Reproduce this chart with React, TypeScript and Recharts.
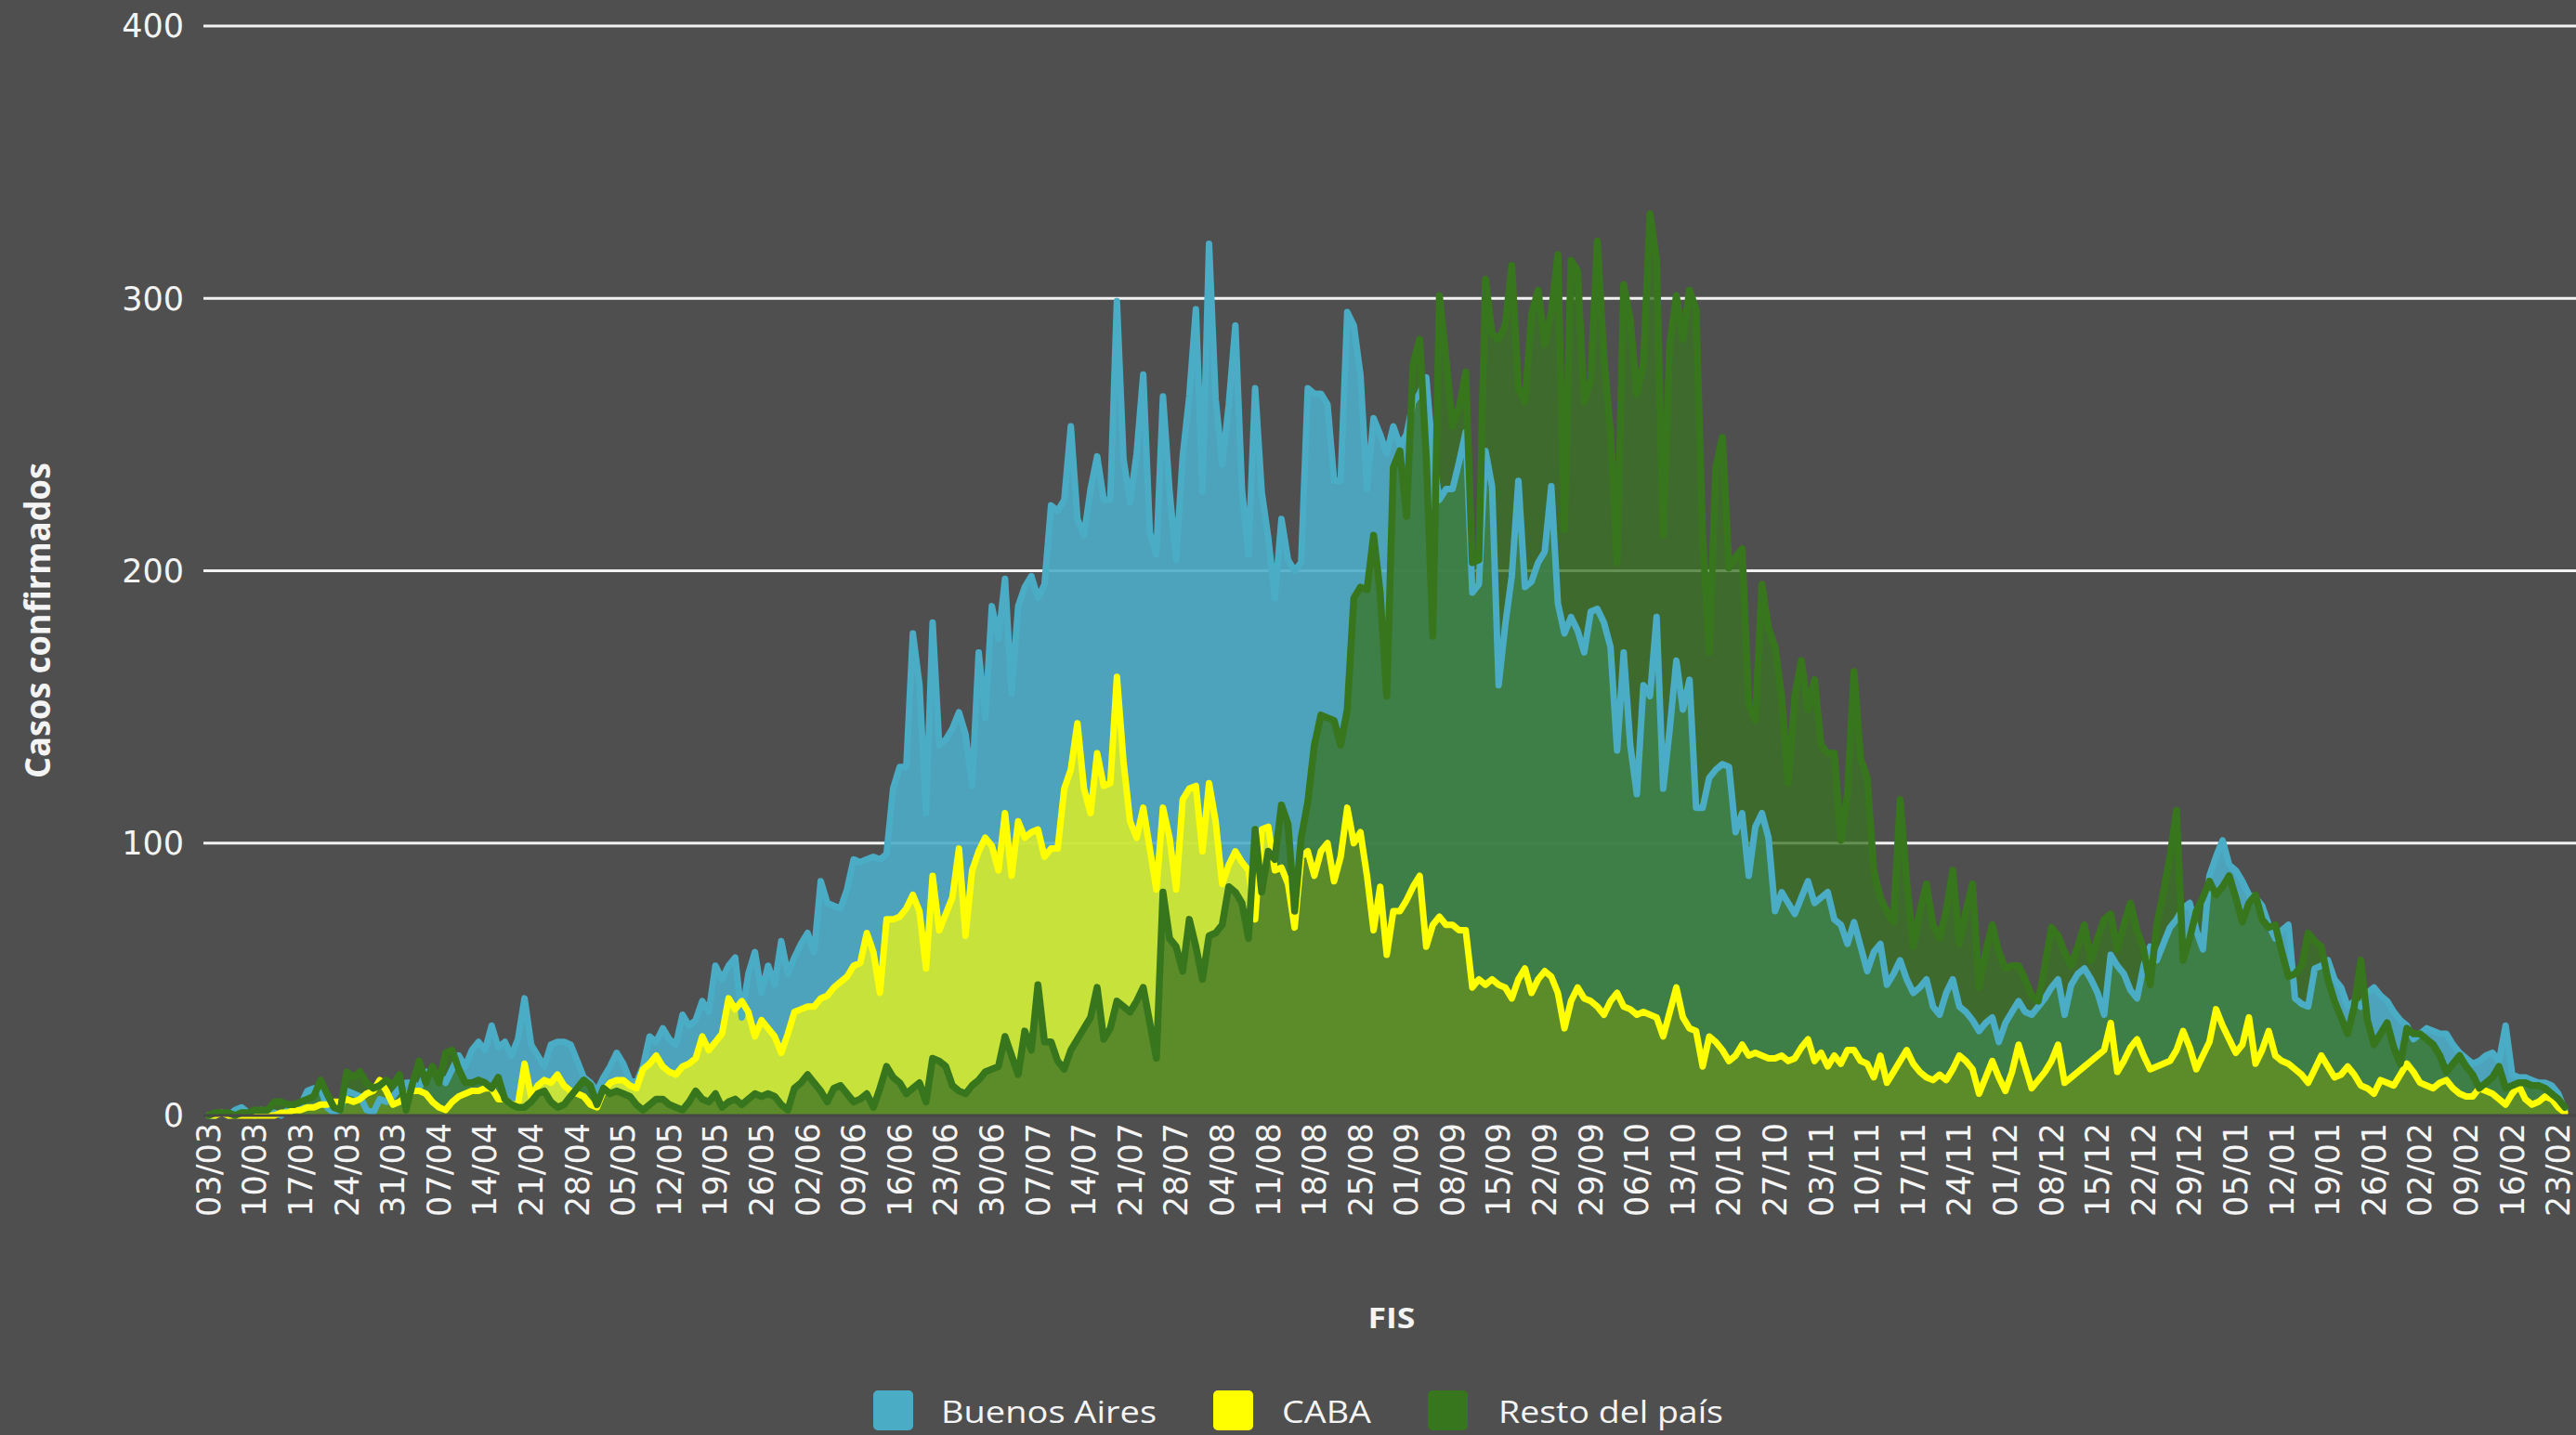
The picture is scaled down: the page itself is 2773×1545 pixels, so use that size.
import React from 'react';
import { ComposedChart, Area, Line, XAxis, YAxis, CartesianGrid, Legend, Label } from 'recharts';

// Daily confirmed cases by FIS (fecha de inicio de síntomas), from 03/03/2020
const BUENOS_AIRES = [
  0, 0, 1, 0, 2, 3, 1, 0, 2, 1,
  1, 0, 2, 3, 4, 9, 10, 10, 3, 1,
  2, 9, 8, 7, 2, 1, 6, 5, 7, 10,
  12, 12, 10, 16, 16, 15, 12, 17, 22, 18,
  24, 27, 24, 33, 25, 27, 22, 28, 43, 26,
  22, 18, 26, 27, 27, 26, 20, 14, 12, 9,
  14, 18, 23, 19, 13, 12, 18, 29, 27, 32,
  28, 26, 37, 33, 35, 42, 38, 55, 50, 55,
  58, 36, 52, 60, 45, 55, 48, 64, 52, 58,
  63, 67, 60, 86, 78, 77, 76, 83, 94, 93,
  94, 95, 94, 96, 120, 128, 128, 177, 158, 111,
  181, 136, 138, 142, 148, 140, 121, 170, 146, 187,
  175, 197, 155, 187, 194, 198, 190, 195, 224, 222,
  226, 253, 219, 213, 230, 242, 226, 226, 299, 241,
  225, 243, 272, 214, 206, 264, 229, 204, 242, 264,
  296, 229, 320, 263, 239, 261, 290, 230, 206, 267,
  229, 212, 190, 219, 204, 200, 203, 267, 265, 265,
  261, 233, 233, 295, 290, 272, 230, 256, 250, 243,
  253, 246, 250, 262, 265, 271, 242, 226, 230, 230,
  240, 251, 192, 195, 244, 231, 158, 180, 198, 233,
  194, 196, 203, 207, 231, 188, 177, 183, 178, 170,
  185, 186, 181, 172, 134, 170, 136, 118, 158, 154,
  183, 120, 142, 167, 149, 160, 113, 113, 124, 127,
  129, 128, 104, 111, 88, 106, 111, 102, 75, 82,
  78, 74, 80, 86, 78, 80, 82, 72, 70, 63,
  71, 62, 53, 60, 63, 48, 52, 57, 50, 45,
  47, 50, 40, 37, 45, 50, 40, 38, 35, 31,
  34, 36, 27, 34, 38, 42, 38, 37, 40, 43,
  47, 50, 37, 48, 52, 54, 50, 45, 37, 59,
  55, 52, 46, 43, 55, 62, 57, 63, 69, 72,
  76, 78, 68, 61, 88, 95, 101, 92, 90, 86,
  81, 80, 77, 70, 65, 68, 70, 43, 41, 40,
  54, 55, 57, 50, 47, 40, 42, 40, 45, 47,
  44, 42, 38, 35, 33, 28, 30, 32, 31, 30,
  30, 26, 23, 21, 19, 20, 22, 23, 20, 33,
  15, 14, 14, 13, 12, 12, 11, 8, 2,
];

const CABA = [
  0, 0, 1, 0, 0, 0, 0, 0, 0, 0,
  0, 1, 1, 2, 2, 3, 3, 4, 4, 5,
  5, 6, 5, 6, 8, 9, 13, 9, 4, 5,
  7, 9, 9, 8, 5, 3, 2, 5, 7, 8,
  9, 9, 10, 10, 6, 6, 4, 4, 19, 7,
  11, 13, 12, 15, 11, 9, 8, 7, 4, 3,
  9, 12, 13, 13, 11, 10, 17, 19, 22, 18,
  16, 15, 18, 19, 21, 29, 24, 27, 30, 43,
  39, 42, 38, 29, 35, 32, 29, 23, 30, 38,
  39, 40, 40, 43, 44, 47, 49, 51, 55, 56,
  67, 60, 45, 72, 72, 73, 76, 81, 75, 54,
  88, 68, 74, 80, 98, 66, 90, 97, 102, 99,
  90, 111, 88, 108, 102, 104, 105, 95, 98, 98,
  120, 127, 144, 120, 111, 133, 121, 122, 161, 130,
  108, 102, 113, 98, 83, 113, 102, 83, 116, 120,
  121, 97, 122, 108, 85, 92, 97, 93, 90, 72,
  105, 106, 90, 91, 85, 69, 95, 97, 88, 97,
  100, 86, 95, 113, 100, 104, 88, 68, 84, 59,
  75, 75, 79, 84, 88, 62, 70, 73, 70, 70,
  68, 68, 47, 50, 48, 50, 48, 47, 43, 50,
  54, 45, 50, 53, 51, 45, 32, 42, 47, 43,
  42, 40, 37, 42, 45, 40, 39, 37, 38, 37,
  36, 29, 38, 47, 36, 32, 31, 18, 29, 27,
  24, 20, 22, 26, 22, 23, 22, 21, 21, 22,
  20, 21, 25, 28, 20, 23, 18, 22, 19, 24,
  24, 20, 19, 14, 22, 12, 16, 20, 24, 19,
  16, 14, 13, 15, 13, 17, 22, 20, 17, 8,
  14, 20, 14, 9, 16, 26, 18, 10, 13, 16,
  20, 26, 12, 14, 16, 18, 20, 22, 24, 34,
  16, 20, 25, 28, 22, 17, 18, 19, 20, 24,
  31, 25, 17, 22, 27, 39, 33, 28, 23, 26,
  36, 19, 24, 31, 22, 20, 19, 17, 15, 12,
  17, 22, 18, 14, 15, 18, 15, 11, 10, 8,
  13, 12, 11, 15, 19, 16, 12, 11, 10, 12,
  13, 10, 8, 7, 7, 10, 9, 8, 6, 4,
  8, 11, 6, 4, 5, 7, 6, 3, 1,
];

const RESTO_DEL_PAIS = [
  0, 1, 1, 1, 0, 1, 1, 2, 2, 2,
  5, 5, 4, 4, 5, 6, 7, 13, 8, 3,
  2, 16, 14, 16, 12, 10, 11, 13, 11, 15,
  2, 12, 20, 12, 18, 12, 23, 24, 17, 12,
  12, 13, 12, 10, 14, 6, 4, 3, 3, 5,
  8, 9, 5, 3, 4, 7, 10, 13, 11, 4,
  10, 8, 9, 8, 7, 4, 2, 4, 6, 6,
  4, 3, 2, 5, 9, 6, 5, 8, 3, 5,
  6, 4, 6, 8, 7, 8, 7, 4, 2, 10,
  12, 15, 12, 9, 5, 10, 11, 8, 5, 6,
  8, 3, 10, 18, 14, 12, 8, 10, 12, 5,
  21, 20, 18, 11, 9, 8, 11, 13, 16, 17,
  18, 29, 22, 15, 31, 24, 48, 27, 27, 20,
  17, 24, 28, 32, 36, 47, 28, 32, 42, 40,
  38, 42, 47, 34, 21, 82, 65, 62, 53, 72,
  62, 50, 66, 67, 70, 84, 82, 78, 65, 105,
  82, 97, 94, 114, 107, 75, 102, 115, 136, 147,
  146, 145, 136, 149, 190, 194, 193, 213, 192, 154,
  238, 244, 220, 276, 285, 242, 176, 301, 278, 253,
  260, 273, 203, 204, 307, 287, 285, 290, 312, 267,
  262, 294, 303, 283, 295, 316, 215, 314, 310, 262,
  270, 321, 278, 251, 203, 305, 292, 265, 276, 331,
  314, 213, 283, 301, 285, 303, 296, 213, 170, 238,
  249, 201, 205, 208, 151, 145, 195, 179, 172, 154,
  122, 154, 167, 149, 160, 136, 133, 133, 101, 118,
  163, 131, 124, 90, 80, 75, 71, 116, 86, 62,
  75, 85, 70, 65, 75, 90, 63, 75, 85, 47,
  60, 70, 60, 54, 55, 55, 50, 44, 42, 55,
  69, 66, 60, 55, 62, 70, 57, 65, 72, 74,
  61, 70, 78, 68, 61, 48, 70, 82, 95, 112,
  57, 65, 75, 80, 86, 81, 84, 88, 80, 71,
  78, 81, 72, 69, 70, 60, 51, 52, 55, 67,
  64, 62, 50, 42, 36, 30, 40, 57, 35, 26,
  30, 34, 25, 19, 32, 30, 30, 28, 26, 22,
  16, 19, 22, 18, 15, 10, 12, 14, 18, 10,
  11, 12, 12, 11, 11, 10, 8, 6, 3,
];

const X_TICKS = [
  '03/03', '10/03', '17/03', '24/03', '31/03', '07/04', '14/04', '21/04', '28/04',
  '05/05', '12/05', '19/05', '26/05', '02/06', '09/06', '16/06', '23/06', '30/06',
  '07/07', '14/07', '21/07', '28/07', '04/08', '11/08', '18/08', '25/08', '01/09',
  '08/09', '15/09', '22/09', '29/09', '06/10', '13/10', '20/10', '27/10', '03/11',
  '10/11', '17/11', '24/11', '01/12', '08/12', '15/12', '22/12', '29/12', '05/01',
  '12/01', '19/01', '26/01', '02/02', '09/02', '16/02', '23/02',
];
const Y_TICKS = [0, 100, 200, 300, 400];
const GRID_VALUES = [100, 200, 300, 400];

const SERIES_NAMES = ['Buenos Aires', 'CABA', 'Resto del país'];
const COLORS = { ba: '#4bacc6', caba: '#ffff00', resto: '#38761d' };

const pad = (n: number) => (n < 10 ? '0' + n : '' + n);
const dayLabel = (i: number) => {
  const d = new Date(Date.UTC(2020, 2, 3 + i));
  return pad(d.getUTCDate()) + '/' + pad(d.getUTCMonth() + 1);
};

const data = BUENOS_AIRES.map((v, i) => ({
  date: dayLabel(i),
  ba: v,
  caba: CABA[i],
  resto: RESTO_DEL_PAIS[i],
}));

const BG = '#4f4f4f';
const TEXT = '#f4f4f4';

const XTick = (props: any) => {
  const { x, y, payload } = props;
  return (
    <text
      x={x}
      y={y}
      dy="0.35em"
      transform={`rotate(-90 ${x} ${y})`}
      textAnchor="end"
      fill={TEXT}
      fontSize={35}
      fontFamily="DejaVu Sans, Verdana, sans-serif"
    >
      {payload.value}
    </text>
  );
};

const legendItems = [
  { name: SERIES_NAMES[0], color: COLORS.ba, sq: 940, tx: 1013, tw: 232 },
  { name: SERIES_NAMES[1], color: COLORS.caba, sq: 1306, tx: 1380, tw: 96 },
  { name: SERIES_NAMES[2], color: COLORS.resto, sq: 1537, tx: 1613, tw: 242 },
];

const renderLegend = () => (
  <svg width={2773} height={60} style={{ display: 'block' }}>
    {legendItems.map((it) => (
      <g key={it.name}>
        <rect x={it.sq} y={12} width={43} height={43} rx={5} ry={5} fill={it.color} />
        <text
          x={it.tx}
          y={47}
          fill={TEXT}
          fontSize={33}
          fontFamily="Open Sans, sans-serif"
          textLength={it.tw}
          lengthAdjust="spacingAndGlyphs"
        >
          {it.name}
        </text>
      </g>
    ))}
  </svg>
);

export default function App() {
  return (
    <div style={{ position: 'absolute', left: 0, top: 0, width: 2773, height: 1545, background: BG }}>
      <ComposedChart
        width={2773}
        height={1545}
        data={data}
        margin={{ top: 28, right: 0, left: 0, bottom: 0 }}
      >
        <CartesianGrid vertical={false} stroke="#f2f2f2" strokeWidth={3} horizontalValues={GRID_VALUES} />
        <XAxis
          dataKey="date"
          ticks={X_TICKS}
          interval={0}
          height={284}
          padding={{ left: 5.6, right: 12 }}
          tick={<XTick />}
          tickLine={false}
          axisLine={{ stroke: '#474747', strokeWidth: 3 }}
        >
          <Label
            content={() => (
              <text
                x={1498}
                y={1430}
                textAnchor="middle"
                fill={TEXT}
                fontSize={31}
                fontWeight={700}
                fontFamily="Open Sans, sans-serif"
                textLength={51}
                lengthAdjust="spacingAndGlyphs"
              >
                FIS
              </text>
            )}
          />
        </XAxis>
        <YAxis
          width={219}
          domain={[0, 400]}
          ticks={Y_TICKS}
          tickLine={false}
          axisLine={false}
          tickMargin={15}
          tick={{ fill: TEXT, fontSize: 35, fontFamily: 'DejaVu Sans, Verdana, sans-serif' }}
        >
          <Label
            content={() => (
              <text
                x={39}
                y={668}
                transform="rotate(-90 39 668)"
                textAnchor="middle"
                dominantBaseline="central"
                fill={TEXT}
                fontSize={38}
                fontWeight={700}
                fontFamily="Open Sans, sans-serif"
                textLength={340}
                lengthAdjust="spacingAndGlyphs"
              >
                Casos confirmados
              </text>
            )}
          />
        </YAxis>
        <Legend
          verticalAlign="bottom"
          height={60}
          content={renderLegend}
          wrapperStyle={{ position: 'absolute', left: 0, top: 1485, bottom: 'auto', width: 2773, height: 60 }}
        />
        <Area type="linear" dataKey="ba" name={SERIES_NAMES[0]} fill={COLORS.ba} fillOpacity={0.9} stroke="none" isAnimationActive={false} dot={false} activeDot={false} legendType="none" />
        <Area type="linear" dataKey="caba" name={SERIES_NAMES[1]} fill={COLORS.caba} fillOpacity={0.69} stroke="none" isAnimationActive={false} dot={false} activeDot={false} legendType="none" />
        <Area type="linear" dataKey="resto" name={SERIES_NAMES[2]} fill="#3a7324" fillOpacity={0.77} stroke="none" isAnimationActive={false} dot={false} activeDot={false} legendType="none" />
        <Line type="linear" dataKey="ba" stroke={COLORS.ba} strokeWidth={7} strokeLinejoin="round" strokeLinecap="round" dot={false} activeDot={false} isAnimationActive={false} legendType="none" />
        <Line type="linear" dataKey="caba" stroke={COLORS.caba} strokeWidth={7} strokeLinejoin="round" strokeLinecap="round" dot={false} activeDot={false} isAnimationActive={false} legendType="none" />
        <Line type="linear" dataKey="resto" stroke={COLORS.resto} strokeWidth={7.5} strokeLinejoin="round" strokeLinecap="round" dot={false} activeDot={false} isAnimationActive={false} legendType="none" />
      </ComposedChart>
    </div>
  );
}
